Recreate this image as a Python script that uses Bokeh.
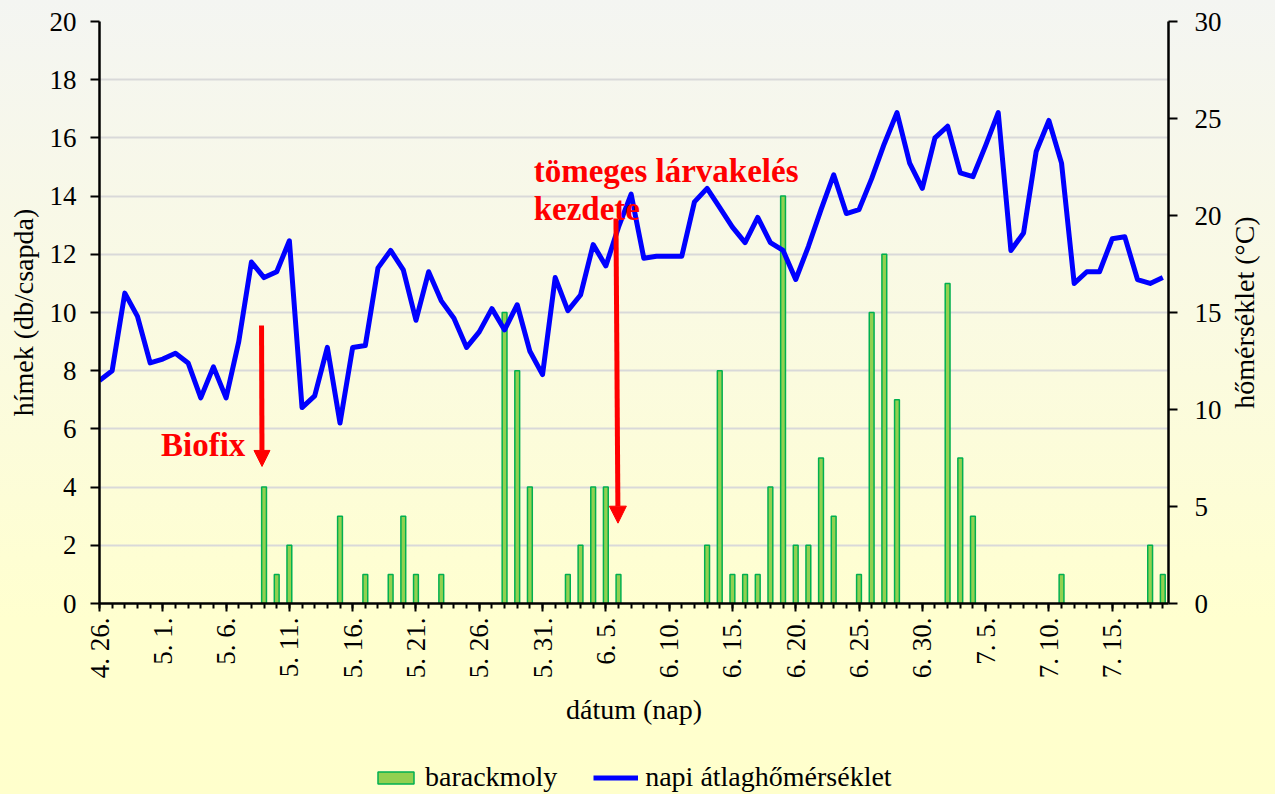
from math import pi
from bokeh.plotting import figure
from bokeh.layouts import column, row
from bokeh.models import (Range1d, LinearAxis, FixedTicker, ColumnDataSource, Legend,
                          LegendItem, Label, Arrow, NormalHead)
from bokeh.embed import file_html
from bokeh.resources import INLINE

# ---------------- data ----------------
tick_days = [0, 5, 10, 15, 20, 25, 30, 35, 40, 45, 50, 55, 60, 65, 70, 75, 80]
tick_labels = ["4. 26.", "5. 1.", "5. 6.", "5. 11.", "5. 16.", "5. 21.", "5. 26.", "5. 31.",
               "6. 5.", "6. 10.", "6. 15.", "6. 20.", "6. 25.", "6. 30.", "7. 5.", "7. 10.",
               "7. 15."]

# daily mean temperature (°C), 4.26. .. 7.19.
temperature = [11.5, 12.0, 16.0, 14.8, 12.4, 12.6, 12.9, 12.4, 10.6, 12.2,
               10.6, 13.5, 17.6, 16.8, 17.1, 18.7, 10.1, 10.7, 13.2, 9.3,
               13.2, 13.3, 17.3, 18.2, 17.2, 14.6, 17.1, 15.6, 14.7, 13.2,
               14.0, 15.2, 14.1, 15.4, 13.0, 11.8, 16.8, 15.1, 15.9, 18.5,
               17.4, 19.4, 21.1, 17.8, 17.9, 17.9, 17.9, 20.7, 21.4, 20.4,
               19.4, 18.6, 19.9, 18.6, 18.2, 16.7, 18.4, 20.3, 22.1, 20.1,
               20.3, 21.9, 23.7, 25.3, 22.7, 21.4, 24.0, 24.6, 22.2, 22.0,
               23.6, 25.3, 18.2, 19.1, 23.3, 24.9, 22.7, 16.5, 17.1, 17.1,
               18.8, 18.9, 16.7, 16.5, 16.8]

# male moths per trap (barackmoly)
moths = [0, 0, 0, 0, 0, 0, 0, 0, 0, 0,
         0, 0, 0, 4, 1, 2, 0, 0, 0, 3,
         0, 1, 0, 1, 3, 1, 0, 1, 0, 0,
         0, 0, 10, 8, 4, 0, 0, 1, 2, 4,
         4, 1, 0, 0, 0, 0, 0, 0, 2, 8,
         1, 1, 1, 4, 14, 2, 2, 5, 3, 0,
         1, 10, 12, 7, 0, 0, 0, 11, 5, 3,
         0, 0, 0, 0, 0, 0, 1, 0, 0, 0,
         0, 0, 0, 2, 1]

days = list(range(len(temperature)))
left_ticks = [0, 2, 4, 6, 8, 10, 12, 14, 16, 18, 20]
right_ticks = [0, 5, 10, 15, 20, 25, 30]

FONT = "Liberation Serif"
RED = "#FF0000"
BAR_FILL = "#92D050"
BAR_LINE = "#00B050"
LINE_COLOR = "#0000FF"
NAN = float("nan")

bar_src = ColumnDataSource(dict(
    day=[d for d, v in zip(days, moths) if v > 0],
    count=[v for v in moths if v > 0],
))
line_src = ColumnDataSource(dict(day=days, temp=temperature))

# page geometry: frame spans x 99..1168, y 21..603
W_TOTAL = 1275
W_RT = 45                      # strip holding the right axis title
W_MAIN = W_TOTAL - W_RT
H_MAIN = 752
H_LEG = 42
FR_L, FR_R, FR_T, FR_B = 99, 1168, 21, 603

p = figure(width=W_MAIN, height=H_MAIN, output_backend="svg", toolbar_location=None,
           x_range=Range1d(0, 84.45), y_range=Range1d(0, 20),
           min_border_left=FR_L, min_border_right=W_MAIN - FR_R,
           min_border_top=FR_T, min_border_bottom=H_MAIN - FR_B,
           background_fill_color=None, border_fill_color=None,
           outline_line_color=None)
p.extra_y_ranges = {"temp": Range1d(0, 30)}

# grid
p.xgrid.grid_line_color = None
p.ygrid.ticker = FixedTicker(ticks=left_ticks)
p.ygrid.grid_line_color = "#D9D9D9"
p.ygrid.grid_line_width = 2


def style_axis(ax):
    ax.axis_line_color = "black"
    ax.axis_line_width = 2.5
    ax.major_tick_line_color = "black"
    ax.major_tick_line_width = 2
    ax.major_tick_in = 0
    ax.major_tick_out = 9
    ax.minor_tick_line_color = None
    ax.major_label_text_font = FONT
    ax.major_label_text_font_size = "27px"
    ax.major_label_text_color = "black"
    ax.axis_label_text_font = FONT
    ax.axis_label_text_font_size = "28px"
    ax.axis_label_text_font_style = "normal"
    ax.axis_label_text_color = "black"


# x axis
xa = p.xaxis[0]
style_axis(xa)
xa.ticker = FixedTicker(ticks=tick_days, minor_ticks=days)
xa.major_label_overrides = {d: l for d, l in zip(tick_days, tick_labels)}
xa.major_label_orientation = pi / 2
xa.major_tick_out = 8
xa.minor_tick_line_color = "black"
xa.minor_tick_line_width = 2
xa.minor_tick_in = 0
xa.minor_tick_out = 5
xa.major_label_standoff = 6
xa.axis_label = "dátum (nap)"
xa.axis_label_standoff = 13

# left axis
ya = p.yaxis[0]
style_axis(ya)
ya.ticker = FixedTicker(ticks=left_ticks)
ya.major_label_standoff = 14
ya.axis_label = "hímek (db/csapda)"
ya.axis_label_standoff = 8

# right axis
ra = LinearAxis(y_range_name="temp", ticker=FixedTicker(ticks=right_ticks))
style_axis(ra)
ra.major_label_standoff = 17
p.add_layout(ra, "right")

# bars and line
bars = p.vbar(x="day", top="count", width=0.38, source=bar_src,
              fill_color=BAR_FILL, line_color=BAR_LINE, line_width=1.5)
line = p.line(x="day", y="temp", source=line_src, y_range_name="temp",
              line_color=LINE_COLOR, line_width=5, line_join="round")

# annotations
p.add_layout(Label(x=4.86, y=5.43, text="Biofix", text_font=FONT,
                   text_font_size="33px", text_font_style="bold", text_color=RED,
                   text_align="left", text_baseline="alphabetic"))
p.add_layout(Arrow(end=NormalHead(size=16, fill_color=RED, line_color=RED, line_width=1),
                   x_start=12.8, y_start=9.55, x_end=12.84, y_end=4.71,
                   line_color=RED, line_width=5))
p.add_layout(Label(x=34.3, y=14.86, text="tömeges lárvakelés", text_font=FONT,
                   text_font_size="33px", text_font_style="bold", text_color=RED,
                   text_align="left", text_baseline="alphabetic"))
p.add_layout(Label(x=34.3, y=13.54, text="kezdete", text_font=FONT,
                   text_font_size="33px", text_font_style="bold", text_color=RED,
                   text_align="left", text_baseline="alphabetic"))
p.add_layout(Arrow(end=NormalHead(size=17, fill_color=RED, line_color=RED, line_width=1),
                   x_start=40.8, y_start=13.23, x_end=40.96, y_end=2.76,
                   line_color=RED, line_width=5))

# right-hand strip carrying the temperature axis title (bottom-to-top)
pr = figure(width=W_RT, height=H_MAIN, output_backend="svg", toolbar_location=None,
            x_range=Range1d(0, 1), y_range=Range1d(0, 1),
            x_axis_location=None, y_axis_location=None,
            min_border_left=0, min_border_right=0,
            min_border_top=FR_T, min_border_bottom=H_MAIN - FR_B,
            background_fill_color=None, border_fill_color=None,
            outline_line_color=None)
pr.xgrid.grid_line_color = None
pr.ygrid.grid_line_color = None
pr.add_layout(Label(x=(1244 - W_MAIN) / W_RT, y=0.5, text="hőmérséklet (°C)",
                    angle=pi / 2, text_align="center", text_baseline="middle",
                    text_font=FONT, text_font_size="28px", text_color="black"))

# legend strip below the chart (same series styles, sample glyphs have no position)
pl = figure(width=W_TOTAL, height=H_LEG, output_backend="svg", toolbar_location=None,
            x_range=Range1d(0, 1), y_range=Range1d(0, 1),
            x_axis_location=None, y_axis_location=None,
            min_border_left=FR_L, min_border_right=W_TOTAL - FR_R,
            min_border_top=0, min_border_bottom=0,
            background_fill_color=None, border_fill_color=None,
            outline_line_color=None)
pl.xgrid.grid_line_color = None
pl.ygrid.grid_line_color = None
leg_bar = pl.vbar(x=[NAN], top=[NAN], width=0.38, fill_color=BAR_FILL,
                  line_color=BAR_LINE, line_width=1.5)
leg_line = pl.line(x=[NAN, NAN], y=[NAN, NAN], line_color=LINE_COLOR, line_width=5)
legend = Legend(items=[LegendItem(label="barackmoly", renderers=[leg_bar]),
                       LegendItem(label="napi átlaghőmérséklet", renderers=[leg_line])],
                location=(373 - FR_L, 1), orientation="horizontal",
                background_fill_alpha=0, border_line_color=None,
                label_text_font=FONT, label_text_font_size="28px",
                label_text_color="black",
                glyph_width=45, glyph_height=15, label_standoff=7, spacing=36,
                padding=0, margin=0)
pl.add_layout(legend)

layout = column(row(p, pr, spacing=0), pl, spacing=0)
layout.styles = {"background": "linear-gradient(to bottom, #F4F5F2 0%, #FAFAE2 40%, #FFFFCF 78%, #FFFFCC 100%)"}

open("out.html", "w").write(file_html(layout, INLINE))
